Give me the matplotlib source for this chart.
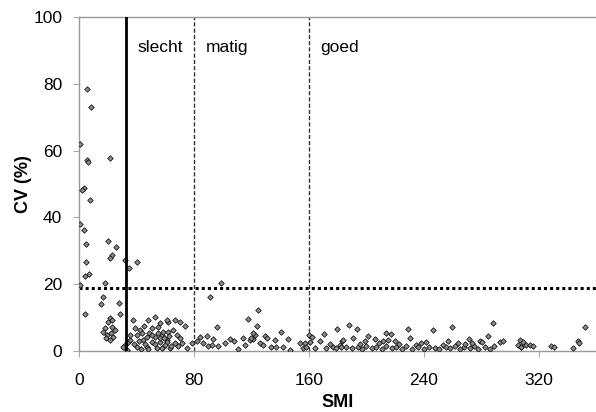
import matplotlib
matplotlib.use("Agg")
import matplotlib.pyplot as plt
import numpy as np

plt.rcParams["font.family"] = ["Liberation Sans", "DejaVu Sans"]

# SMI / CV pairs, grouped by region
smi_left = [0.7, 5.3, 8.3, 5.3, 6.5, 21.6, 3.5, 2.3, 7.7, 0.7, 3.7, 4.6, 20.0, 25.5,
            22.7, 21.8, 32.0, 4.6, 34.8, 40.5, 4.2, 7.0, 0.7, 18.4, 16.9, 15.0, 27.8,
            28.5, 4.4, 21.6, 22.7, 20.4, 23.2, 18.1, 16.9, 19.3, 22.3, 25.0, 18.8,
            21.6, 23.9, 32.0, 30.8, 33.2, 34.3]
cv_left = [62.0, 78.3, 73.1, 57.2, 56.7, 57.7, 48.7, 48.2, 45.2, 37.9, 36.2, 32.1, 33.0, 31.0,
           28.7, 27.7, 27.2, 26.6, 24.8, 26.5, 22.5, 23.0, 19.8, 20.3, 16.3, 14.1, 14.5,
           11.1, 11.2, 9.8, 9.3, 8.8, 7.1, 6.8, 5.8, 4.8, 5.3, 6.3, 3.8,
           3.3, 4.3, 1.8, 1.1, 0.3, 2.8]

smi_slecht = [37.8, 48.2, 52.9, 62.1, 42.4, 50.6, 55.2, 40.1, 47.1, 52.9, 57.5, 35.5, 44.7,
              50.6, 56.3, 61.0, 40.1, 47.1, 54.0, 58.6, 35.5, 56.3, 61.0, 66.8, 70.3, 73.7,
              58.6, 62.1, 65.6, 68.0, 70.3, 56.3, 61.0, 66.8, 69.0, 63.3, 57.5, 38.5, 43.0,
              49.0, 53.0, 45.0, 60.0, 72.0, 75.0, 78.4, 44.0, 46.0, 51.0, 55.0, 59.0, 63.0,
              64.0, 48.0, 42.0, 39.0]
cv_slecht = [9.3, 9.3, 10.1, 8.8, 6.3, 6.8, 7.1, 4.8, 4.3, 4.3, 4.8, 3.3, 3.3,
             2.8, 2.8, 3.3, 1.3, 1.3, 0.8, 1.3, 4.8, 8.3, 9.3, 9.3, 8.8, 7.5,
             5.8, 5.8, 6.3, 4.8, 3.8, 3.8, 2.8, 2.3, 1.5, 0.8, 0.8, 2.0, 0.5,
             5.5, 2.0, 7.5, 1.8, 2.5, 1.0, 2.3, 5.5, 2.0, 4.8, 5.5, 4.0, 4.5,
             1.5, 0.5, 3.0, 6.8]

smi_matig = [99.2, 91.1, 124.4, 117.8, 96.2, 88.8, 93.4, 81.9, 86.5, 90.0, 96.9, 105.0,
             107.8, 110.4, 113.9, 119.0, 121.3, 115.5, 122.4, 101.6, 123.6, 121.3, 120.1,
             129.4, 130.6, 141.0, 125.9, 128.2, 136.3, 145.6, 134.0, 137.5, 142.1, 146.8,
             153.7, 157.2, 156.0, 158.4, 84.2, 92.3]
cv_matig = [20.3, 16.3, 12.3, 9.5, 7.3, 4.5, 3.6, 3.0, 2.5, 1.5, 1.5, 3.6,
            3.1, 0.5, 4.0, 3.3, 3.5, 1.8, 4.8, 2.3, 7.5, 5.3, 3.8,
            4.5, 3.8, 5.8, 2.3, 1.8, 3.3, 3.5, 1.1, 1.1, 1.1, 0.3,
            2.5, 2.3, 0.8, 1.1, 4.3, 1.8]

smi_goed = [160.2, 161.9, 160.7, 167.7, 170.4, 179.7, 183.4, 176.9, 179.2, 181.6, 186.2,
            188.0, 193.6, 190.8, 183.9, 182.7, 164.0, 172.0, 175.0,
            201.2, 205.9, 214.0, 217.5, 215.2, 219.8, 229.1, 230.3, 234.9, 241.8, 246.5,
            199.0, 190.0, 194.0, 197.0, 200.0, 204.0, 207.0, 211.0, 214.0, 218.0, 221.0,
            225.0, 228.0, 232.0, 236.0, 240.0, 244.0, 248.0, 196.0, 209.0, 223.0, 238.0,
            212.0,
            260.0, 288.2, 284.7, 271.5, 279.0, 280.8, 256.9, 292.9, 295.2, 253.4, 255.8,
            251.0, 258.0, 262.0, 265.0, 268.0, 272.0, 275.0, 278.0, 283.0, 286.0, 264.0,
            269.0, 274.0, 289.0,
            306.8, 309.1, 305.6, 307.9, 311.4, 313.7, 316.0, 308.0, 328.8, 331.1, 343.9,
            347.4, 348.5, 352.0]
cv_goed = [4.8, 4.3, 2.8, 3.1, 5.1, 6.5, 3.1, 1.3, 0.8, 1.8, 1.1,
           7.8, 6.6, 4.0, 3.3, 1.1, 1.0, 0.8, 2.2,
           4.5, 3.5, 5.5, 5.1, 3.3, 3.0, 6.5, 3.8, 1.8, 2.8, 6.3,
           3.1, 0.8, 1.3, 0.5, 1.5, 0.8, 1.2, 0.5, 1.6, 0.9, 1.3,
           0.6, 1.4, 0.7, 1.1, 0.5, 1.3, 0.8, 2.2, 2.4, 2.0, 2.3,
           3.0,
           7.3, 8.5, 4.5, 3.6, 3.1, 2.8, 3.1, 2.8, 3.0, 1.8, 1.3,
           0.5, 0.8, 1.4, 0.6, 1.2, 0.9, 1.5, 0.5, 1.1, 0.7, 2.3,
           2.0, 2.5, 1.6,
           3.3, 2.8, 1.8, 1.3, 1.8, 1.8, 1.5, 1.1, 1.5, 1.1, 0.8,
           3.1, 2.3, 7.3]

SMI_CUT = 33
CLASS_BOUNDS = [80, 160]
CV_CUT = 19
CLASS_LABELS = ["slecht", "matig", "goed"]
LABEL_X = [40.5, 88, 168]

X_TICKS = [0, 80, 160, 240, 320]
Y_TICKS = [0, 20, 40, 60, 80, 100]

smi = np.array(smi_left + smi_slecht + smi_matig + smi_goed)
cv = np.array(cv_left + cv_slecht + cv_matig + cv_goed)

fig = plt.figure(figsize=(5.96, 4.12), dpi=100)
ax = fig.add_axes([79 / 596, 1 - 351 / 412, 1 - 79 / 596, (351 - 17) / 412])

ax.scatter(smi, cv, marker="D", s=8, facecolor="#8c8c8c", edgecolor="black",
           linewidths=0.5, zorder=3)

ax.axvline(SMI_CUT, color="black", linewidth=2, zorder=4)
for b in CLASS_BOUNDS:
    ax.axvline(b, color="#333333", linewidth=1, linestyle=(0, (3, 1.5)), zorder=2)
ax.axhline(CV_CUT, color="black", linewidth=2.2, linestyle=(0, (1, 1)), zorder=2)

for lx, lab in zip(LABEL_X, CLASS_LABELS):
    ax.text(lx, 89.5, lab, fontsize=12.5, va="baseline", ha="left")

ax.set_xlim(0, 360)
ax.set_ylim(0, 100)
ax.set_xticks(X_TICKS)
ax.set_yticks(Y_TICKS)
ax.tick_params(axis="both", direction="out", length=4, width=0.8, color="#aaaaaa",
               labelsize=12.5)
ax.tick_params(axis="y", pad=8)
ax.tick_params(axis="x", pad=12)

for side in ["left", "bottom", "top"]:
    ax.spines[side].set_color("#999999")
    ax.spines[side].set_linestyle((0, (1, 1)))
    ax.spines[side].set_linewidth(1)
ax.spines["right"].set_visible(False)

ax.set_xlabel("SMI", fontsize=13, fontweight="bold", labelpad=4)
ax.set_ylabel("CV (%)", fontsize=13, fontweight="bold", labelpad=1)

fig.savefig("out.png", dpi=100)
